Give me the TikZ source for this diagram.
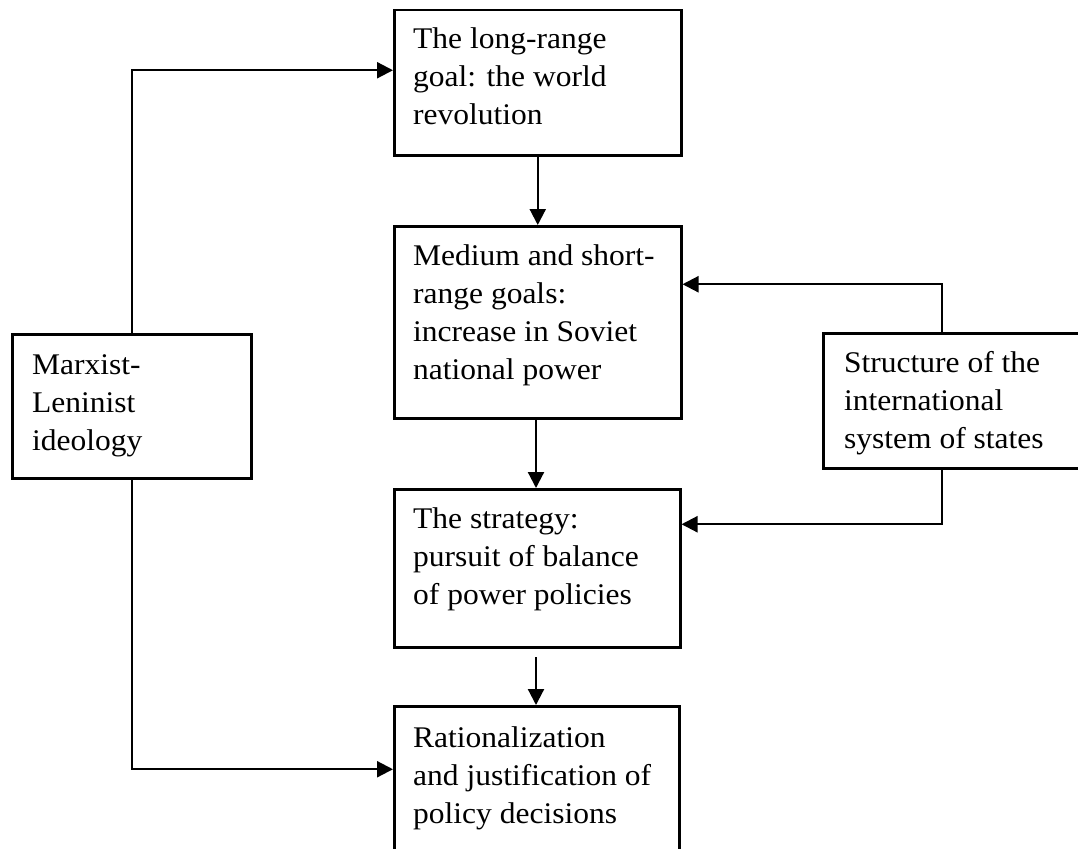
\documentclass[tikz,border=0pt]{standalone}
\usepackage{fontspec}
\setmainfont{Liberation Serif}[FakeStretch=1.05]
\usetikzlibrary{arrows.meta}
\tikzset{
  box/.style={draw, line width=2.5pt, rectangle, inner sep=0pt, anchor=north west},
  txt/.style={anchor=north west, inner sep=0pt, align=left, font=\fontsize{30}{38}\selectfont},
  conn/.style={line width=2.2pt},
  arr/.style={conn, -{Triangle[length=16pt,width=16pt]}}
}
\newcommand{\fst}{\rule{0pt}{24pt}}
\begin{document}
\begin{tikzpicture}[x=1pt,y=-1pt]
\clip (0,0) rectangle (1078,848);
\fill[white] (0,0) rectangle (1078,848);
% boxes
\node[box, minimum width=287pt, minimum height=145pt] (b1) at (393,9) {};
\node[box, minimum width=287pt, minimum height=192pt] (b2) at (393,225) {};
\node[box, minimum width=286pt, minimum height=158pt] (b3) at (393,488) {};
\node[box, minimum width=285pt, minimum height=150pt] (b4) at (393,705) {};
\node[box, minimum width=239pt, minimum height=144pt] (ml) at (11,333) {};
\node[box, minimum width=280pt, minimum height=135pt] (sb) at (822,332) {};
% texts
\node[txt] (t1) at (413,24) {\fst The long-range\\goal: the world\\revolution};
\node[txt] (t2) at (413,241) {\fst Medium and short-\\range goals:\\increase in Soviet\\national power};
\node[txt] (t3) at (413,504) {\fst The strategy:\\pursuit of balance\\of power policies};
\node[txt] (t4) at (413,723) {\fst Rationalization\\and justification of\\policy decisions};
\node[txt] (tl) at (32,350) {\fst Marxist-\\Leninist\\ideology};
\node[txt] (tr) at (844,348) {\fst Structure of the\\international\\system of states};
% helper coordinates
\coordinate (sx) at (942,0);
\coordinate (s3) at (536,657);
% connectors
\draw[arr] (b1.south) -- (b1.south |- b2.north);
\draw[arr] (b2.south -| s3) -- (b3.north -| s3);
\draw[arr] (s3) -- (b4.north -| s3);
\draw[arr] (ml.north) |- ([yshift=12.5pt]b1.west);
\draw[arr] (ml.south) |- ([yshift=12pt]b4.west);
\draw[arr] (sb.north -| sx) |- ([yshift=38pt]b2.east);
\draw[arr] (sb.south -| sx) |- ([yshift=44pt]b3.east);
\end{tikzpicture}
\end{document}
